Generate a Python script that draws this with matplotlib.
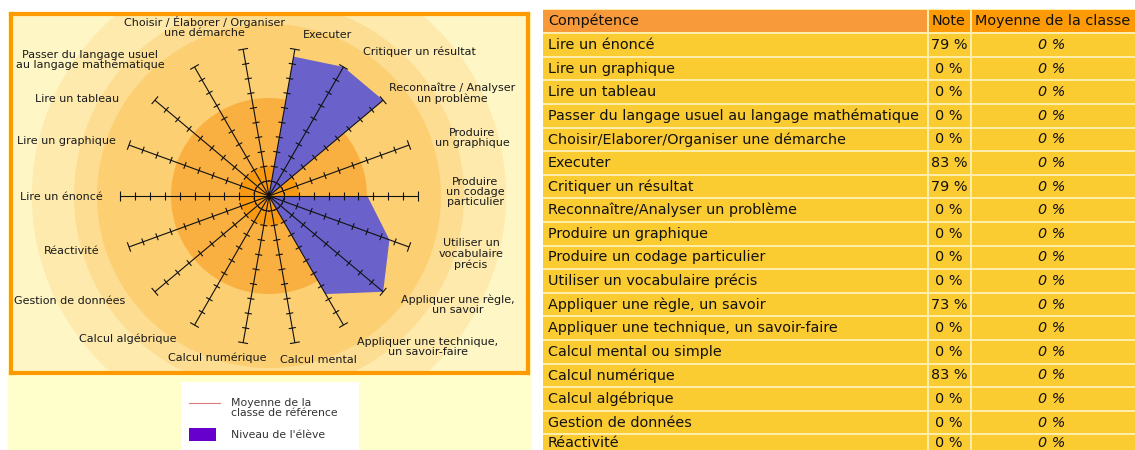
import numpy as np
import matplotlib
matplotlib.use("Agg")
import matplotlib.pyplot as plt
from matplotlib.patches import Rectangle, Circle
from matplotlib.collections import LineCollection

# ---------------- data ----------------
competences = [
    "Lire un énoncé", "Lire un graphique", "Lire un tableau",
    "Passer du langage usuel au langage mathématique",
    "Choisir/Elaborer/Organiser une démarche", "Executer",
    "Critiquer un résultat", "Reconnaître/Analyser un problème",
    "Produire un graphique", "Produire un codage particulier",
    "Utiliser un vocabulaire précis", "Appliquer une règle, un savoir",
    "Appliquer une technique, un savoir-faire", "Calcul mental ou simple",
    "Calcul numérique", "Calcul algébrique", "Gestion de données", "Réactivité",
]
notes = [79, 0, 0, 0, 0, 83, 79, 0, 0, 0, 0, 73, 0, 0, 83, 0, 0, 0]
moyennes = [0] * 18

radar_labels = [
    "Lire un énoncé", "Lire un graphique", "Lire un tableau",
    "Passer du langage usuel\nau langage mathématique",
    "Choisir / Élaborer / Organiser\nune démarche", "Executer",
    "Critiquer un résultat", "Reconnaître / Analyser\nun problème",
    "Produire\nun graphique", "Produire\nun codage\nparticulier",
    "Utiliser un\nvocabulaire\nprécis", "Appliquer une règle,\nun savoir",
    "Appliquer une technique,\nun savoir-faire", "Calcul mental",
    "Calcul numérique", "Calcul algébrique", "Gestion de données", "Réactivité",
]
# student level as drawn on the radar (%)
radar_levels = [0, 0, 0, 0, 0, 95, 100, 100, 0, 66, 86, 100, 76, 0, 0, 0, 0, 0]
radar_class = [0] * 18

# ---------------- layout (pixels) ----------------
W, H = 1135, 450
CX, CY = 269, 196          # radar centre
S = 1.49                   # px per percent
label_xy = [(61, 197), (66, 141), (77, 99), (90, 60), (204, 27), (328, 35),
            (419, 52), (452, 93), (472, 138), (475, 192), (471, 254),
            (458, 305), (428, 347), (318, 360), (217, 358), (128, 339),
            (70, 301), (72, 251)]

def fx(x):
    return x / W

def fy(y):
    return 1 - y / H

fig = plt.figure(figsize=(W / 100, H / 100), dpi=100)
fig.patch.set_facecolor("white")
plt.rcParams["font.family"] = ["DejaVu Sans"]

# light yellow panel
fig.patches.append(Rectangle((fx(8), fy(450)), (532 - 8) / W, (450 - 12) / H,
                             transform=fig.transFigure, facecolor="#FFFFCC",
                             edgecolor="none", zorder=-2))

# ---------------- background box with rings ----------------
L, R, T, B = 11, 528, 14, 373
axb = fig.add_axes([fx(L), fy(B), (R - L) / W, (B - T) / H])
axb.set_xlim((L - CX) / S, (R - CX) / S)
axb.set_ylim((CY - B) / S, (CY - T) / S)
axb.set_facecolor("#FEF6C4")
axb.set_xticks([]); axb.set_yticks([])
for sp in axb.spines.values():
    sp.set_color("#FF9900"); sp.set_linewidth(3)
rings = [(237, "#FDEAAC"), (195, "#FCDD92"), (172, "#FBCF72"),
         (98, "#F9B040"), (30, "#F99A14")]
for r, c in rings:
    axb.add_patch(Circle((0, 0), r / S, facecolor=c, edgecolor="none", zorder=1))

# ---------------- polar radar ----------------
RP = 162
axp = fig.add_axes([fx(CX - RP), fy(CY + RP), 2 * RP / W, 2 * RP / H],
                   projection="polar")
axp.set_theta_zero_location("N")
axp.set_theta_direction(-1)
axp.set_ylim(0, RP / S)
axp.patch.set_alpha(0)
axp.grid(False)
axp.set_xticks([]); axp.set_yticks([])
axp.spines["polar"].set_visible(False)

n = len(radar_levels)
theta = np.deg2rad(270 + 20 * np.arange(n))
tc = np.append(theta, theta[0])
axp.fill(tc, np.append(radar_levels, radar_levels[0]), color="#6A62CA",
         lw=0, zorder=2)
axp.plot(tc, np.append(radar_class, radar_class[0]), color="#E07070",
         lw=1, zorder=3)

segs = []
for th in theta:
    segs.append([(th, 0), (th, 100)])
    for k in range(1, 11):
        rr = 10 * k
        h = (5.0 if k == 10 else 3.6) / S
        d = np.arctan2(h, rr)
        rad = np.hypot(rr, h)
        segs.append([(th - d, rad), (th + d, rad)])
axp.add_collection(LineCollection(segs, colors="#111111", linewidths=0.8,
                                  zorder=4))

for lab, (x, y) in zip(radar_labels, label_xy):
    fig.text(fx(x), fy(y), lab, ha="center", va="center", fontsize=8,
             color="#1a1a1a", linespacing=1.05, zorder=5)

# ---------------- legend ----------------
fig.patches.append(Rectangle((fx(181), fy(450)), (359 - 181) / W, (450 - 382) / H,
                             transform=fig.transFigure, facecolor="white",
                             edgecolor="none", zorder=1))
fig.lines.append(plt.Line2D([fx(189), fx(220)], [fy(403), fy(403)],
                            transform=fig.transFigure, color="#E07A7A", lw=0.8,
                            zorder=2))
fig.patches.append(Rectangle((fx(189), fy(441)), 27 / W, 13 / H,
                             transform=fig.transFigure, facecolor="#6600CC",
                             edgecolor="none", zorder=2))
fig.text(fx(231), fy(408), "Moyenne de la\nclasse de référence", ha="left",
         va="center", fontsize=7.8, color="#333333", linespacing=1.05, zorder=3)
fig.text(fx(231), fy(435), "Niveau de l'élève", ha="left", va="center",
         fontsize=7.8, color="#333333", zorder=3)

# ---------------- table ----------------
axt = fig.add_axes([fx(543), 0, (W - 543) / W, 1])
axt.set_xlim(543, W)
axt.set_ylim(H, 0)
axt.axis("off")
sep = "#FFEDAA"
cols = [(543, 927), (929, 970), (972, W + 2)]
hdr_y0, hdr_y1 = 10, 32
pitch = 23.6
FS = 10.4
axt.add_patch(Rectangle((543, hdr_y0 - 1), W - 543, H, facecolor=sep,
                        edgecolor="none"))
hdr_colors = ["#F89A3A", "#FD9A06", "#FD9A06"]
headers = ["Compétence", "Note", "Moyenne de la classe"]
for (x0, x1), c in zip(cols, hdr_colors):
    axt.add_patch(Rectangle((x0, hdr_y0), x1 - x0, hdr_y1 - hdr_y0,
                            facecolor=c, edgecolor="none"))
axt.text(548, 21, headers[0], ha="left", va="center", fontsize=FS, color="#111")
axt.text(949, 21, headers[1], ha="center", va="center", fontsize=FS, color="#111")
axt.text(975, 21, headers[2], ha="left", va="center", fontsize=FS, color="#111")

for i, (name, nt, mo) in enumerate(zip(competences, notes, moyennes)):
    yc = 45 + pitch * i
    y0 = yc - pitch / 2 + 1
    ty = min(yc, 443)
    for (x0, x1) in cols:
        axt.add_patch(Rectangle((x0, y0), x1 - x0, pitch - 2,
                                facecolor="#FBCB32", edgecolor="none"))
    axt.text(548, ty, name, ha="left", va="center", fontsize=FS, color="#111")
    axt.text(949, ty, f"{nt} %", ha="center", va="center", fontsize=FS,
             color="#111")
    axt.text(1052, ty, f"{mo} %", ha="center", va="center", fontsize=FS,
             color="#111", style="italic")

fig.savefig("out.png", dpi=100)
